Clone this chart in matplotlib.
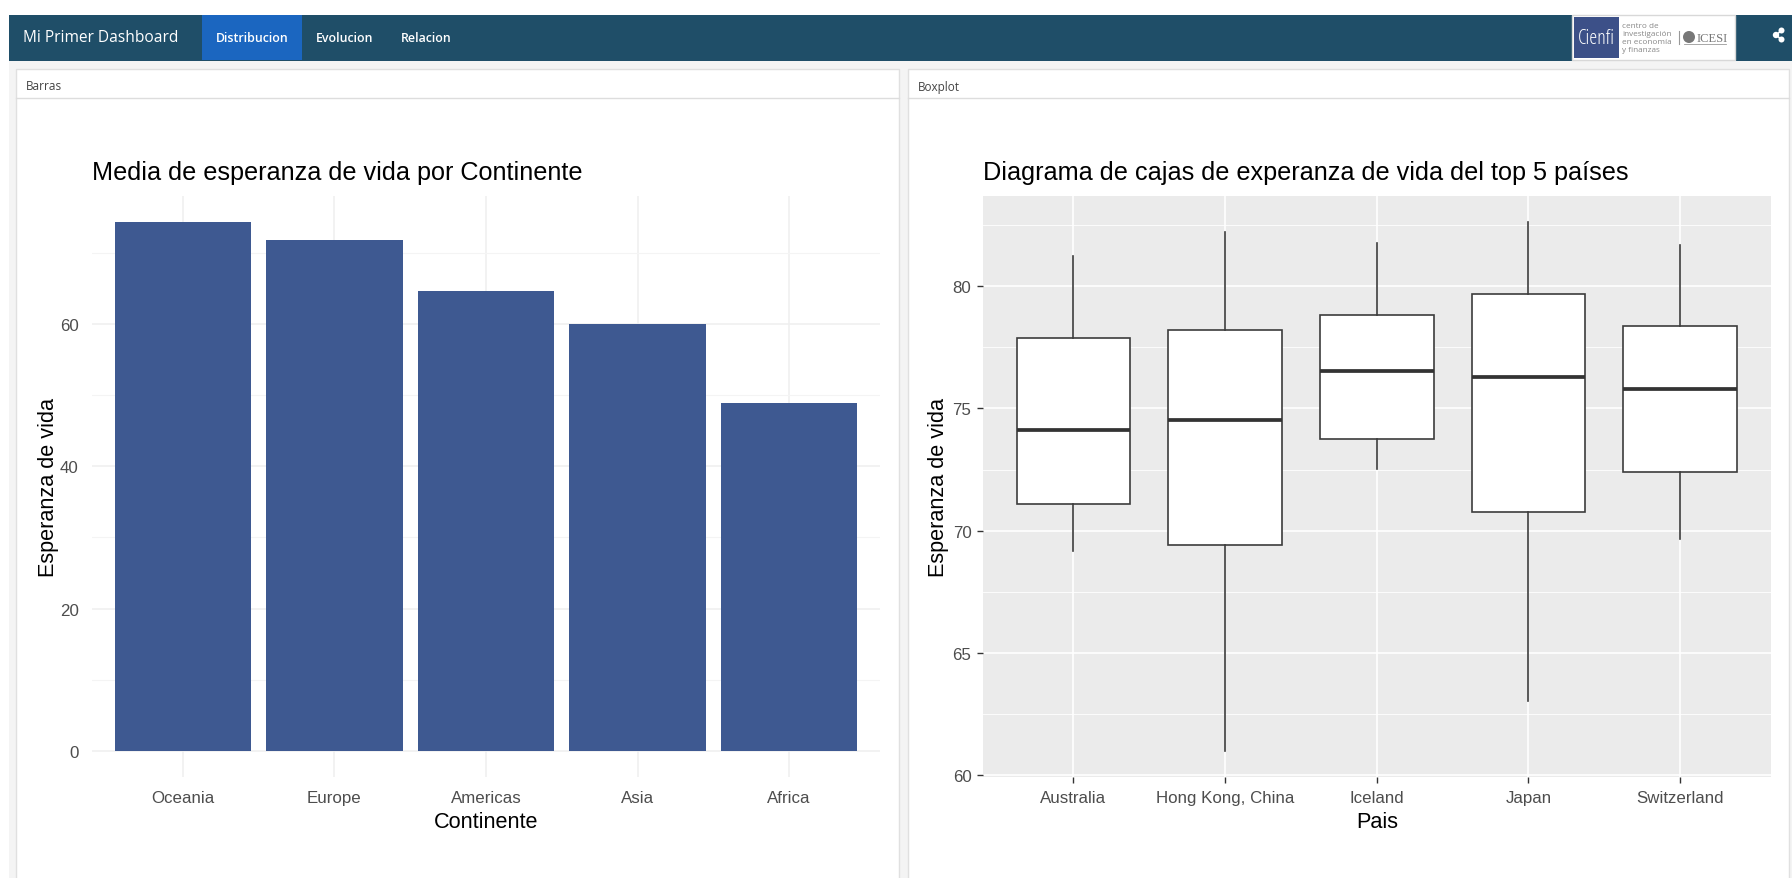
import matplotlib

matplotlib.use("Agg")

import matplotlib.pyplot as plt
from matplotlib.patches import Circle, Rectangle

plt.rcParams["font.family"] = ["Liberation Sans", "DejaVu Sans"]

# Bar chart data
continents = ["Oceania", "Europe", "Americas", "Asia", "Africa"]
mean_life_exp = [74.33, 71.90, 64.66, 60.06, 48.87]
bar_major_ticks = [0, 20, 40, 60]
bar_minor_ticks = [10, 30, 50, 70]

# Boxplot data
countries = ["Australia", "Hong Kong, China", "Iceland", "Japan", "Switzerland"]
whisker_low = [69.15, 60.98, 72.51, 63.03, 69.64]
quartile_1 = [71.09, 69.41, 73.74, 70.78, 72.40]
medians = [74.13, 74.54, 76.53, 76.27, 75.81]
quartile_3 = [77.88, 78.22, 78.84, 79.70, 78.37]
whisker_high = [81.23, 82.23, 81.78, 82.62, 81.69]
box_major_ticks = [60, 65, 70, 75, 80]
box_minor_ticks = [62.5, 67.5, 72.5, 77.5, 82.5]

nav_tabs = ["Distribucion", "Evolucion", "Relacion"]

WIDTH, HEIGHT = 1792, 879
NAV_FONT = ["Open Sans", "DejaVu Sans"]
NAVY = "#1f4e68"
BAR_BLUE = "#3e5991"


def px_axes(fig, left, top, right, bottom, **kwargs):
    return fig.add_axes(
        [left / WIDTH, 1 - bottom / HEIGHT, (right - left) / WIDTH, (bottom - top) / HEIGHT],
        **kwargs,
    )


def draw_page(fig):
    # Dashboard chrome, in pixel coordinates of the screenshot.
    bg = px_axes(fig, 0, 0, WIDTH, HEIGHT)
    bg.set_xlim(0, WIDTH)
    bg.set_ylim(HEIGHT, 0)
    bg.axis("off")

    bg.add_patch(Rectangle((0, 16), WIDTH, HEIGHT - 16, fc="#f4f4f4", ec="none"))
    bg.add_patch(Rectangle((0, 16), 9, HEIGHT - 16, fc="white", ec="none"))
    bg.add_patch(Rectangle((9, 16), WIDTH - 9, 45.5, fc=NAVY, ec="none"))
    bg.add_patch(Rectangle((202, 16), 100, 44.5, fc="#1b66c0", ec="none"))

    bg.text(23, 38.5, "Mi Primer Dashboard", color="white", fontsize=11.2,
            family=NAV_FONT, va="center")
    for label, x in zip(nav_tabs, [216, 315.5, 401]):
        bg.text(x, 39, label, color="white", fontsize=8.9, family=NAV_FONT,
                va="center", weight=600)

    # Panels
    for left, right, title in [(16, 899, "Barras"), (908, 1789, "Boxplot")]:
        bg.add_patch(Rectangle((left, 70), right - left, HEIGHT, fc="white", ec="#e0e0e0", lw=1))
        bg.plot([left, right], [99, 99], color="#dddddd", lw=1)
        bg.text(left + 10, 87, title, color="#444444", fontsize=8.5, family=NAV_FONT, va="center")

    # Logo
    bg.add_patch(Rectangle((1572, 16), 163, 45, fc="white", ec="#d8d8d8", lw=1))
    bg.add_patch(Rectangle((1574, 18), 45, 41, fc="#3c5088", ec="none"))
    bg.text(1596.5, 38.5, "Cienfi", color="white", fontsize=14.5, family=NAV_FONT,
            ha="center", va="center", stretch="condensed")
    for line, y in zip(["centro de", "investigación", "en economía", "y finanzas"], [26, 34, 42, 50]):
        bg.text(1622, y, line, color="#888888", fontsize=5.9, family=NAV_FONT, va="center")
    bg.plot([1679, 1679], [32, 45], color="#999999", lw=0.8)
    bg.add_patch(Circle((1689, 38), 6, fc="#777777", ec="none"))
    bg.text(1697, 39, "ICESI", color="#777777", fontsize=9, family="Liberation Serif", va="center")
    bg.plot([1684, 1726], [45, 45], color="#999999", lw=0.6)

    # Share icon
    bg.plot([1781.5, 1776, 1781.5], [31.5, 36, 40.5], color="white", lw=1.2)
    for x, y, r in [(1776, 36, 3.2), (1781.5, 31.5, 3), (1781.5, 40.5, 3)]:
        bg.add_patch(Circle((x, y), r, fc="white", ec="none"))


def label_axes(ax, title, xlabel):
    ax.text(0.0, 1.02, title, transform=ax.transAxes, fontsize=18.2, color="black",
            ha="left", va="bottom")
    ax.set_xlabel(xlabel, fontsize=15.6, color="black")
    ax.xaxis.set_label_coords(0.5, -0.059)
    ax.set_ylabel("Esperanza de vida", fontsize=15.6, color="black")
    ax.yaxis.set_label_coords(-0.042, 0.5)


def draw_bars(fig):
    ax = px_axes(fig, 92, 197, 880, 778)
    ax.patch.set_alpha(0)
    positions = range(1, len(continents) + 1)
    ax.bar(positions, mean_life_exp, width=0.903, color=BAR_BLUE, zorder=3)

    ax.set_xlim(0.4, 5.6)
    ax.set_ylim(-3.7, 78.05)
    ax.set_xticks(list(positions), continents)
    ax.set_yticks(bar_major_ticks)
    ax.set_yticks(bar_minor_ticks, minor=True)
    ax.grid(True, which="major", color="#efefef", lw=1.1, zorder=0)
    ax.grid(True, which="minor", axis="y", color="#f4f4f4", lw=0.8, zorder=0)
    ax.tick_params(which="both", length=0)
    ax.tick_params(axis="both", which="major", labelsize=12.2, labelcolor="#4d4d4d", pad=9.5)
    for spine in ax.spines.values():
        spine.set_visible(False)

    label_axes(ax, "Media de esperanza de vida por Continente", "Continente")


def draw_boxes(fig):
    ax = px_axes(fig, 982.5, 197, 1771, 778)
    ax.set_facecolor("#ebebeb")

    stats = [
        {"label": c, "whislo": lo, "q1": q1, "med": m, "q3": q3, "whishi": hi}
        for c, lo, q1, m, q3, hi in zip(
            countries, whisker_low, quartile_1, medians, quartile_3, whisker_high
        )
    ]
    ax.bxp(
        stats,
        positions=range(1, len(countries) + 1),
        widths=0.75,
        patch_artist=True,
        showcaps=False,
        showfliers=False,
        boxprops={"facecolor": "white", "edgecolor": "#3c3c3c", "linewidth": 1.2},
        whiskerprops={"color": "#3c3c3c", "linewidth": 1.2},
        medianprops={"color": "#333333", "linewidth": 2.7, "solid_capstyle": "butt"},
        zorder=3,
    )

    ax.set_xlim(0.4, 5.6)
    ax.set_ylim(59.91, 83.7)
    ax.set_yticks(box_major_ticks)
    ax.set_yticks(box_minor_ticks, minor=True)
    ax.grid(True, which="major", color="white", lw=1.2, zorder=0)
    ax.grid(True, which="minor", axis="y", color="white", lw=0.6, zorder=0)
    ax.set_axisbelow(True)
    ax.tick_params(which="minor", length=0)
    ax.tick_params(axis="both", which="major", length=4, width=1, color="#333333",
                   labelsize=12.2, labelcolor="#4d4d4d", pad=4)
    ax.tick_params(axis="x", which="major", pad=5.7)
    for spine in ax.spines.values():
        spine.set_visible(False)

    label_axes(ax, "Diagrama de cajas de experanza de vida del top 5 países", "Pais")


def main():
    fig = plt.figure(figsize=(WIDTH / 100, HEIGHT / 100), dpi=100)
    draw_page(fig)
    draw_bars(fig)
    draw_boxes(fig)
    fig.savefig("out.png", dpi=100)
    plt.close(fig)


if __name__ == "__main__":
    main()
